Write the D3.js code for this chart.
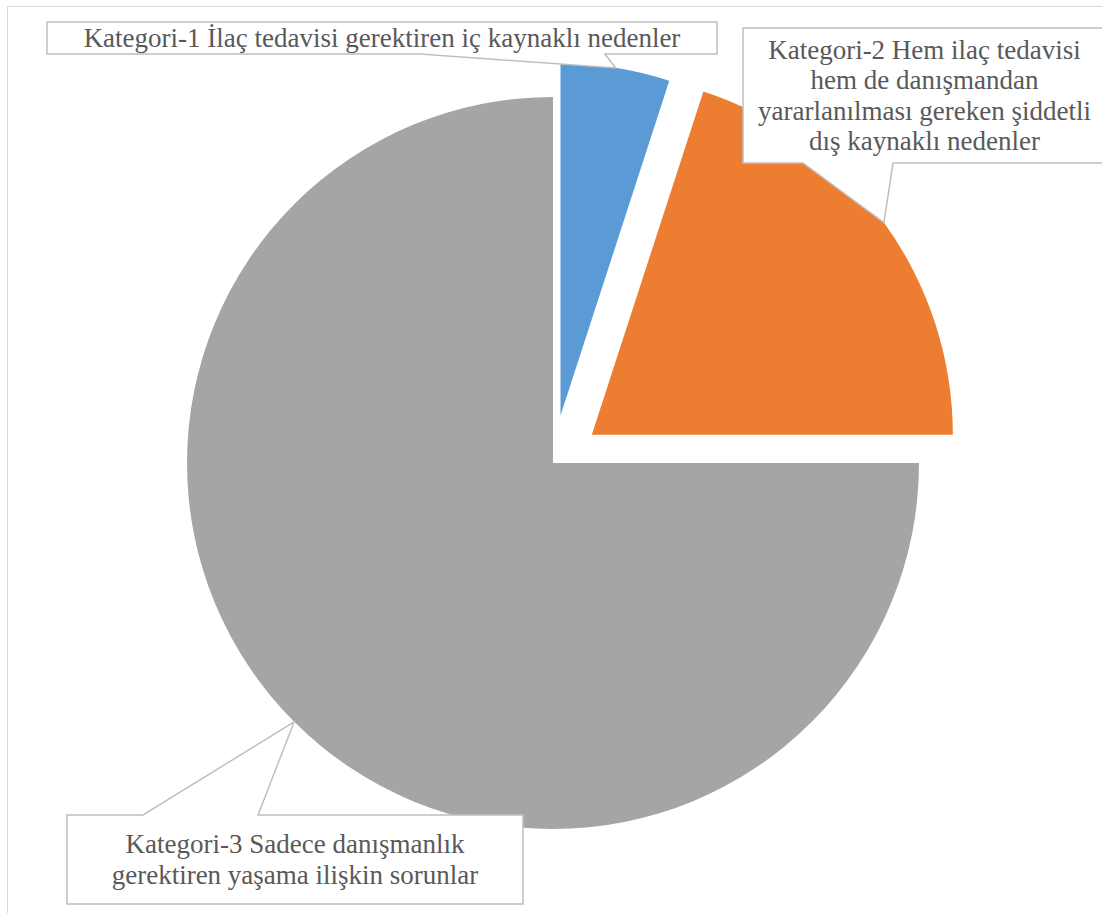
<!DOCTYPE html>
<html>
<head>
<meta charset="utf-8">
<script src="https://cdn.jsdelivr.net/npm/d3@7"></script>
<style>
  html, body { margin: 0; padding: 0; background: #fff; }
  svg { display: block; }
  .lbl { font-family: "Liberation Serif", "Times New Roman", Tinos, serif; }
</style>
</head>
<body>
<svg id="chart" width="1102" height="913"></svg>
<script>
// ---- data ----
const categories = ["Kategori-1", "Kategori-2", "Kategori-3"];
const values = [5, 20, 75];
const labelLines = [
  ["Kategori-1 İlaç tedavisi gerektiren iç kaynaklı nedenler"],
  ["Kategori-2 Hem ilaç tedavisi", "hem de danışmandan", "yararlanılması gereken şiddetli", "dış kaynaklı nedenler"],
  ["Kategori-3 Sadece danışmanlık", "gerektiren yaşama ilişkin sorunlar"]
];
const colors = ["#5B9BD5", "#ED7D31", "#A5A5A5"];

// ---- layout (styling, not data) ----
const center = { x: 553, y: 463 };
const radii = [352, 361, 366];
const explode = [48, 48, 0];
const boxes = [
  { x0: 47, y0: 22, x1: 717, y1: 54, side: "bottom", b0: 420, b1: 605 },
  { x0: 743, y0: 28, x1: 1106, y1: 163, side: "bottom", b0: 803, b1: 893 },
  { x0: 67, y0: 815, x1: 523, y1: 904, side: "top", b0: 143, b1: 258 }
];
const fontSize = 27, lineH = 30.5;

const svg = d3.select("#chart");

svg.append("rect")
  .attr("x", 7.5).attr("y", 6.5).attr("width", 1200).attr("height", 1000)
  .attr("fill", "none").attr("stroke", "#D9D9D9").attr("stroke-width", 1);

const pie = d3.pie().sort(null).value(d => d);
const arcs = pie(values);

const sliceInfo = arcs.map((a, i) => {
  const mid = (a.startAngle + a.endAngle) / 2;
  const ox = center.x + Math.sin(mid) * explode[i];
  const oy = center.y - Math.cos(mid) * explode[i];
  const tip = [ox + Math.sin(mid) * radii[i], oy - Math.cos(mid) * radii[i]];
  return { a, mid, ox, oy, tip };
});

svg.append("g").selectAll("path")
  .data(sliceInfo)
  .join("path")
  .attr("transform", d => `translate(${d.ox},${d.oy})`)
  .attr("d", (d, i) => d3.arc().innerRadius(0).outerRadius(radii[i])(d.a))
  .attr("fill", (d, i) => colors[i]);

const lg = svg.append("g");
boxes.forEach((b, i) => {
  const t = sliceInfo[i].tip;
  let pts;
  if (b.side === "bottom") {
    pts = [[b.x0, b.y0], [b.x1, b.y0], [b.x1, b.y1], [b.b1, b.y1], t, [b.b0, b.y1], [b.x0, b.y1]];
  } else {
    pts = [[b.x0, b.y0], [b.b0, b.y0], t, [b.b1, b.y0], [b.x1, b.y0], [b.x1, b.y1], [b.x0, b.y1]];
  }
  lg.append("path")
    .attr("d", d3.line()(pts) + "Z")
    .attr("fill", "#fff")
    .attr("stroke", "#BFBFBF")
    .attr("stroke-width", 1.5);
  const lines = labelLines[i];
  const cx = (b.x0 + b.x1) / 2;
  const cy = (b.y0 + b.y1) / 2;
  const firstBase = cy - (lines.length - 1) * lineH / 2 + fontSize * 0.33;
  const txt = lg.append("text")
    .attr("class", "lbl")
    .style("font-size", fontSize + "px")
    .attr("fill", "#595959")
    .attr("text-anchor", "middle");
  lines.forEach((ln, k) => {
    txt.append("tspan").attr("x", cx).attr("y", firstBase + k * lineH).text(ln);
  });
});
</script>
</body>
</html>
